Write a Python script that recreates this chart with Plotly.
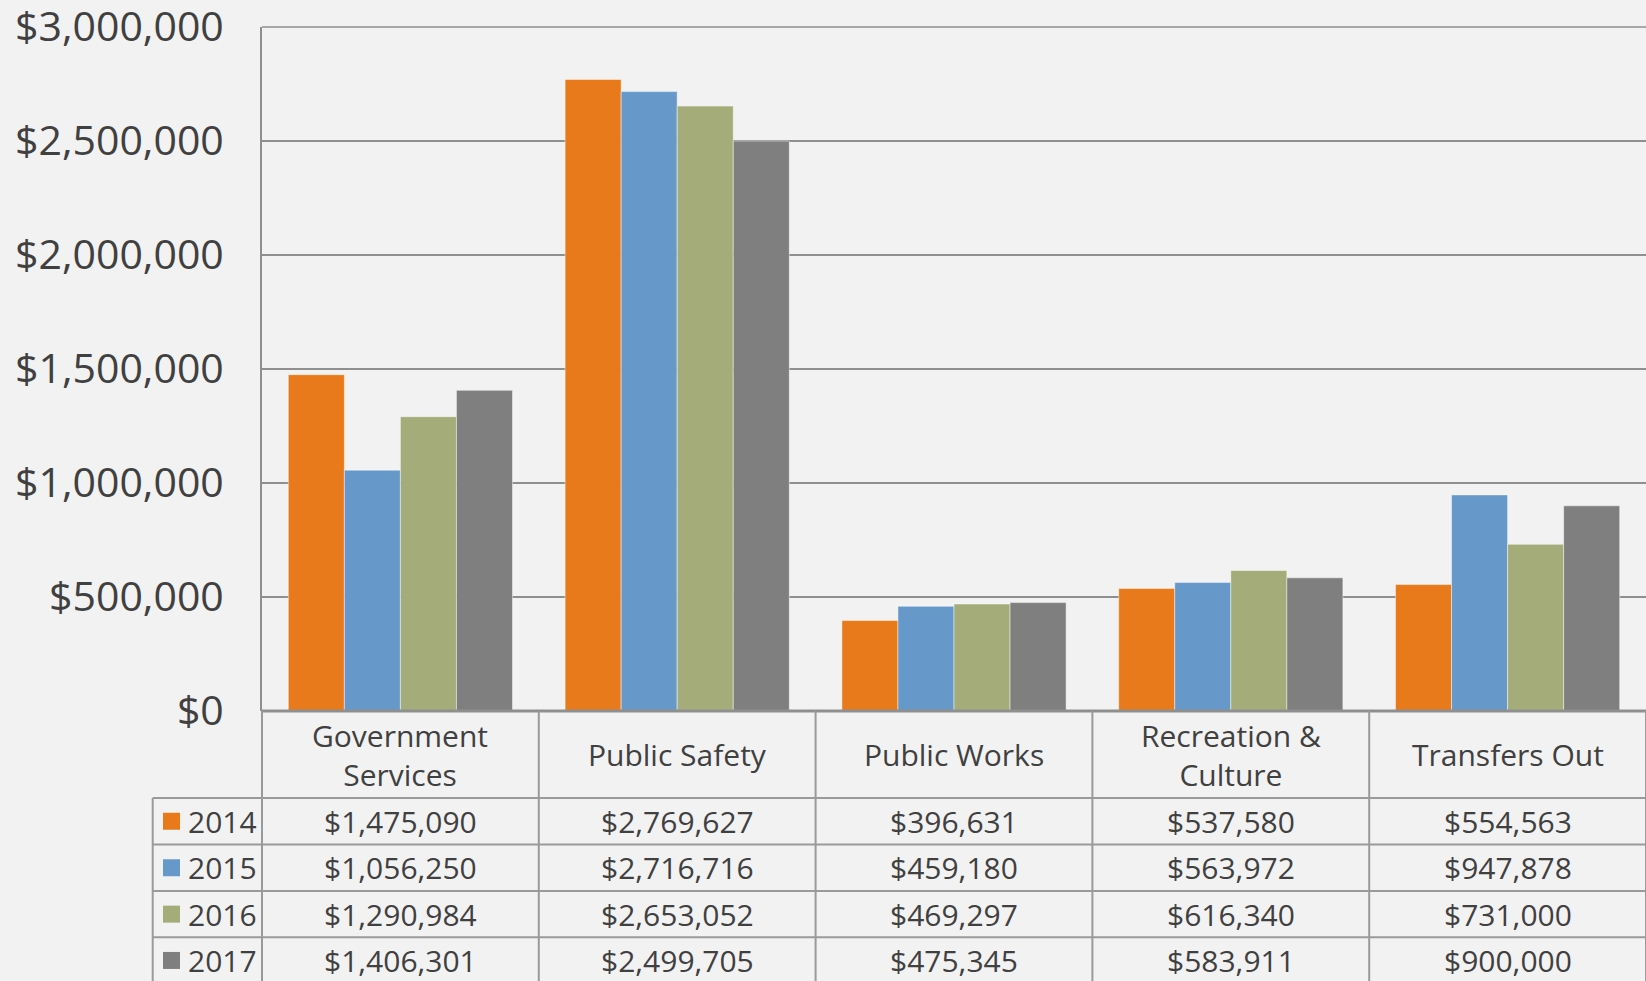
import plotly.graph_objects as go

categories = ["Government Services", "Public Safety", "Public Works", "Recreation & Culture", "Transfers Out"]
category_labels = ["Government<br>Services", "Public Safety", "Public Works", "Recreation &<br>Culture", "Transfers Out"]
years = ["2014", "2015", "2016", "2017"]
values_2014 = [1475090, 2769627, 396631, 537580, 554563]
values_2015 = [1056250, 2716716, 459180, 563972, 947878]
values_2016 = [1290984, 2653052, 469297, 616340, 731000]
values_2017 = [1406301, 2499705, 475345, 583911, 900000]
series = [values_2014, values_2015, values_2016, values_2017]
colors = ["#E97A1B", "#6699C9", "#A4AC7A", "#7F7F7F"]

W, H = 1646, 981
L, R, T, B = 262, 0, 27, 270
plot_w = W - L - R
plot_h = H - T - B
y0_px = H - B  # pixel of y=0

def py(p):
    return (y0_px - p) / plot_h

def px(p):
    return (p - L) / plot_w

fig = go.Figure()
for yr, vals, col in zip(years, series, colors):
    fig.add_trace(go.Bar(x=categories, y=vals, name=yr, marker=dict(color=col, line=dict(color="rgba(255,255,255,0.45)", width=1))))

font_family = "Open Sans"
txt = "#404040"
line_col = "#9a9a9a"
grid_col = "#8F8F8F"
tsize = 30

fig.update_layout(
    width=W, height=H,
    margin=dict(l=L, r=R, t=T, b=B, pad=0, autoexpand=False),
    paper_bgcolor="#F2F2F2", plot_bgcolor="#F2F2F2",
    barmode="group", bargap=0.19, bargroupgap=0,
    showlegend=False,
    font=dict(family=font_family, color=txt),
    xaxis=dict(showticklabels=False, showgrid=False, zeroline=False, showline=False, range=[-0.5, 4.5], ticks="", automargin=False),
    yaxis=dict(range=[0, 3000000], dtick=500000, tickformat=",d", tickprefix="$", automargin=False,
               showgrid=True, gridcolor=grid_col, gridwidth=1.5, zeroline=False,
               showline=True, linecolor=grid_col, linewidth=2, ticklabeloverflow="allow",
               tickfont=dict(size=41, family=font_family, color=txt), ticklabelstandoff=28, ticks=""),
)

shapes = []
header_bottom = 798
row_edges = [798, 844.5, 891, 937.3, 983.6]
left_col = 152.7
# top gridline at the end of the value range
shapes.append(dict(type="line", xref="paper", yref="paper", x0=0, x1=1, y0=1, y1=1, line=dict(color=grid_col, width=1.5)))
shapes.append(dict(type="line", xref="paper", yref="paper", x0=0, x1=1, y0=0, y1=0, line=dict(color=grid_col, width=3)))
for i in range(6):
    shapes.append(dict(type="line", xref="paper", yref="paper", x0=i / 5, x1=i / 5, y0=0, y1=py(row_edges[-1]), line=dict(color=line_col, width=2)))
shapes.append(dict(type="line", xref="paper", yref="paper", x0=px(left_col), x1=px(left_col), y0=py(header_bottom), y1=py(row_edges[-1]), line=dict(color=line_col, width=2)))
for e in row_edges[:-1]:
    shapes.append(dict(type="line", xref="paper", yref="paper", x0=px(left_col), x1=1, y0=py(e), y1=py(e), line=dict(color=line_col, width=2)))
for k, col in enumerate(colors):
    c = (row_edges[k] + row_edges[k + 1]) / 2
    shapes.append(dict(type="rect", xref="paper", yref="paper", x0=px(163), x1=px(180), y0=py(c + 8.5), y1=py(c - 8.5), fillcolor=col, line=dict(width=0)))

annotations = []
for cat, lab in zip(categories, category_labels):
    annotations.append(dict(x=cat, xref="x", y=py((711 + header_bottom) / 2), yref="paper", text=lab, showarrow=False,
                            xanchor="center", yanchor="middle", font=dict(size=tsize, color=txt, family=font_family)))
for k, (yr, vals) in enumerate(zip(years, series)):
    c = (row_edges[k] + row_edges[k + 1]) / 2
    annotations.append(dict(x=px(186), xref="paper", y=py(c), yref="paper", text=yr, showarrow=False,
                            xanchor="left", yanchor="middle", font=dict(size=tsize, color=txt, family=font_family)))
    for cat, v in zip(categories, vals):
        annotations.append(dict(x=cat, xref="x", y=py(c), yref="paper", text=f"${v:,}", showarrow=False,
                                xanchor="center", yanchor="middle", font=dict(size=tsize, color=txt, family=font_family)))

fig.update_layout(shapes=shapes, annotations=annotations)
fig.write_html("out.html", config={"displayModeBar": False},
               post_script="document.body.style.margin='0';document.body.style.background='#F2F2F2';document.body.style.overflow='hidden';")
